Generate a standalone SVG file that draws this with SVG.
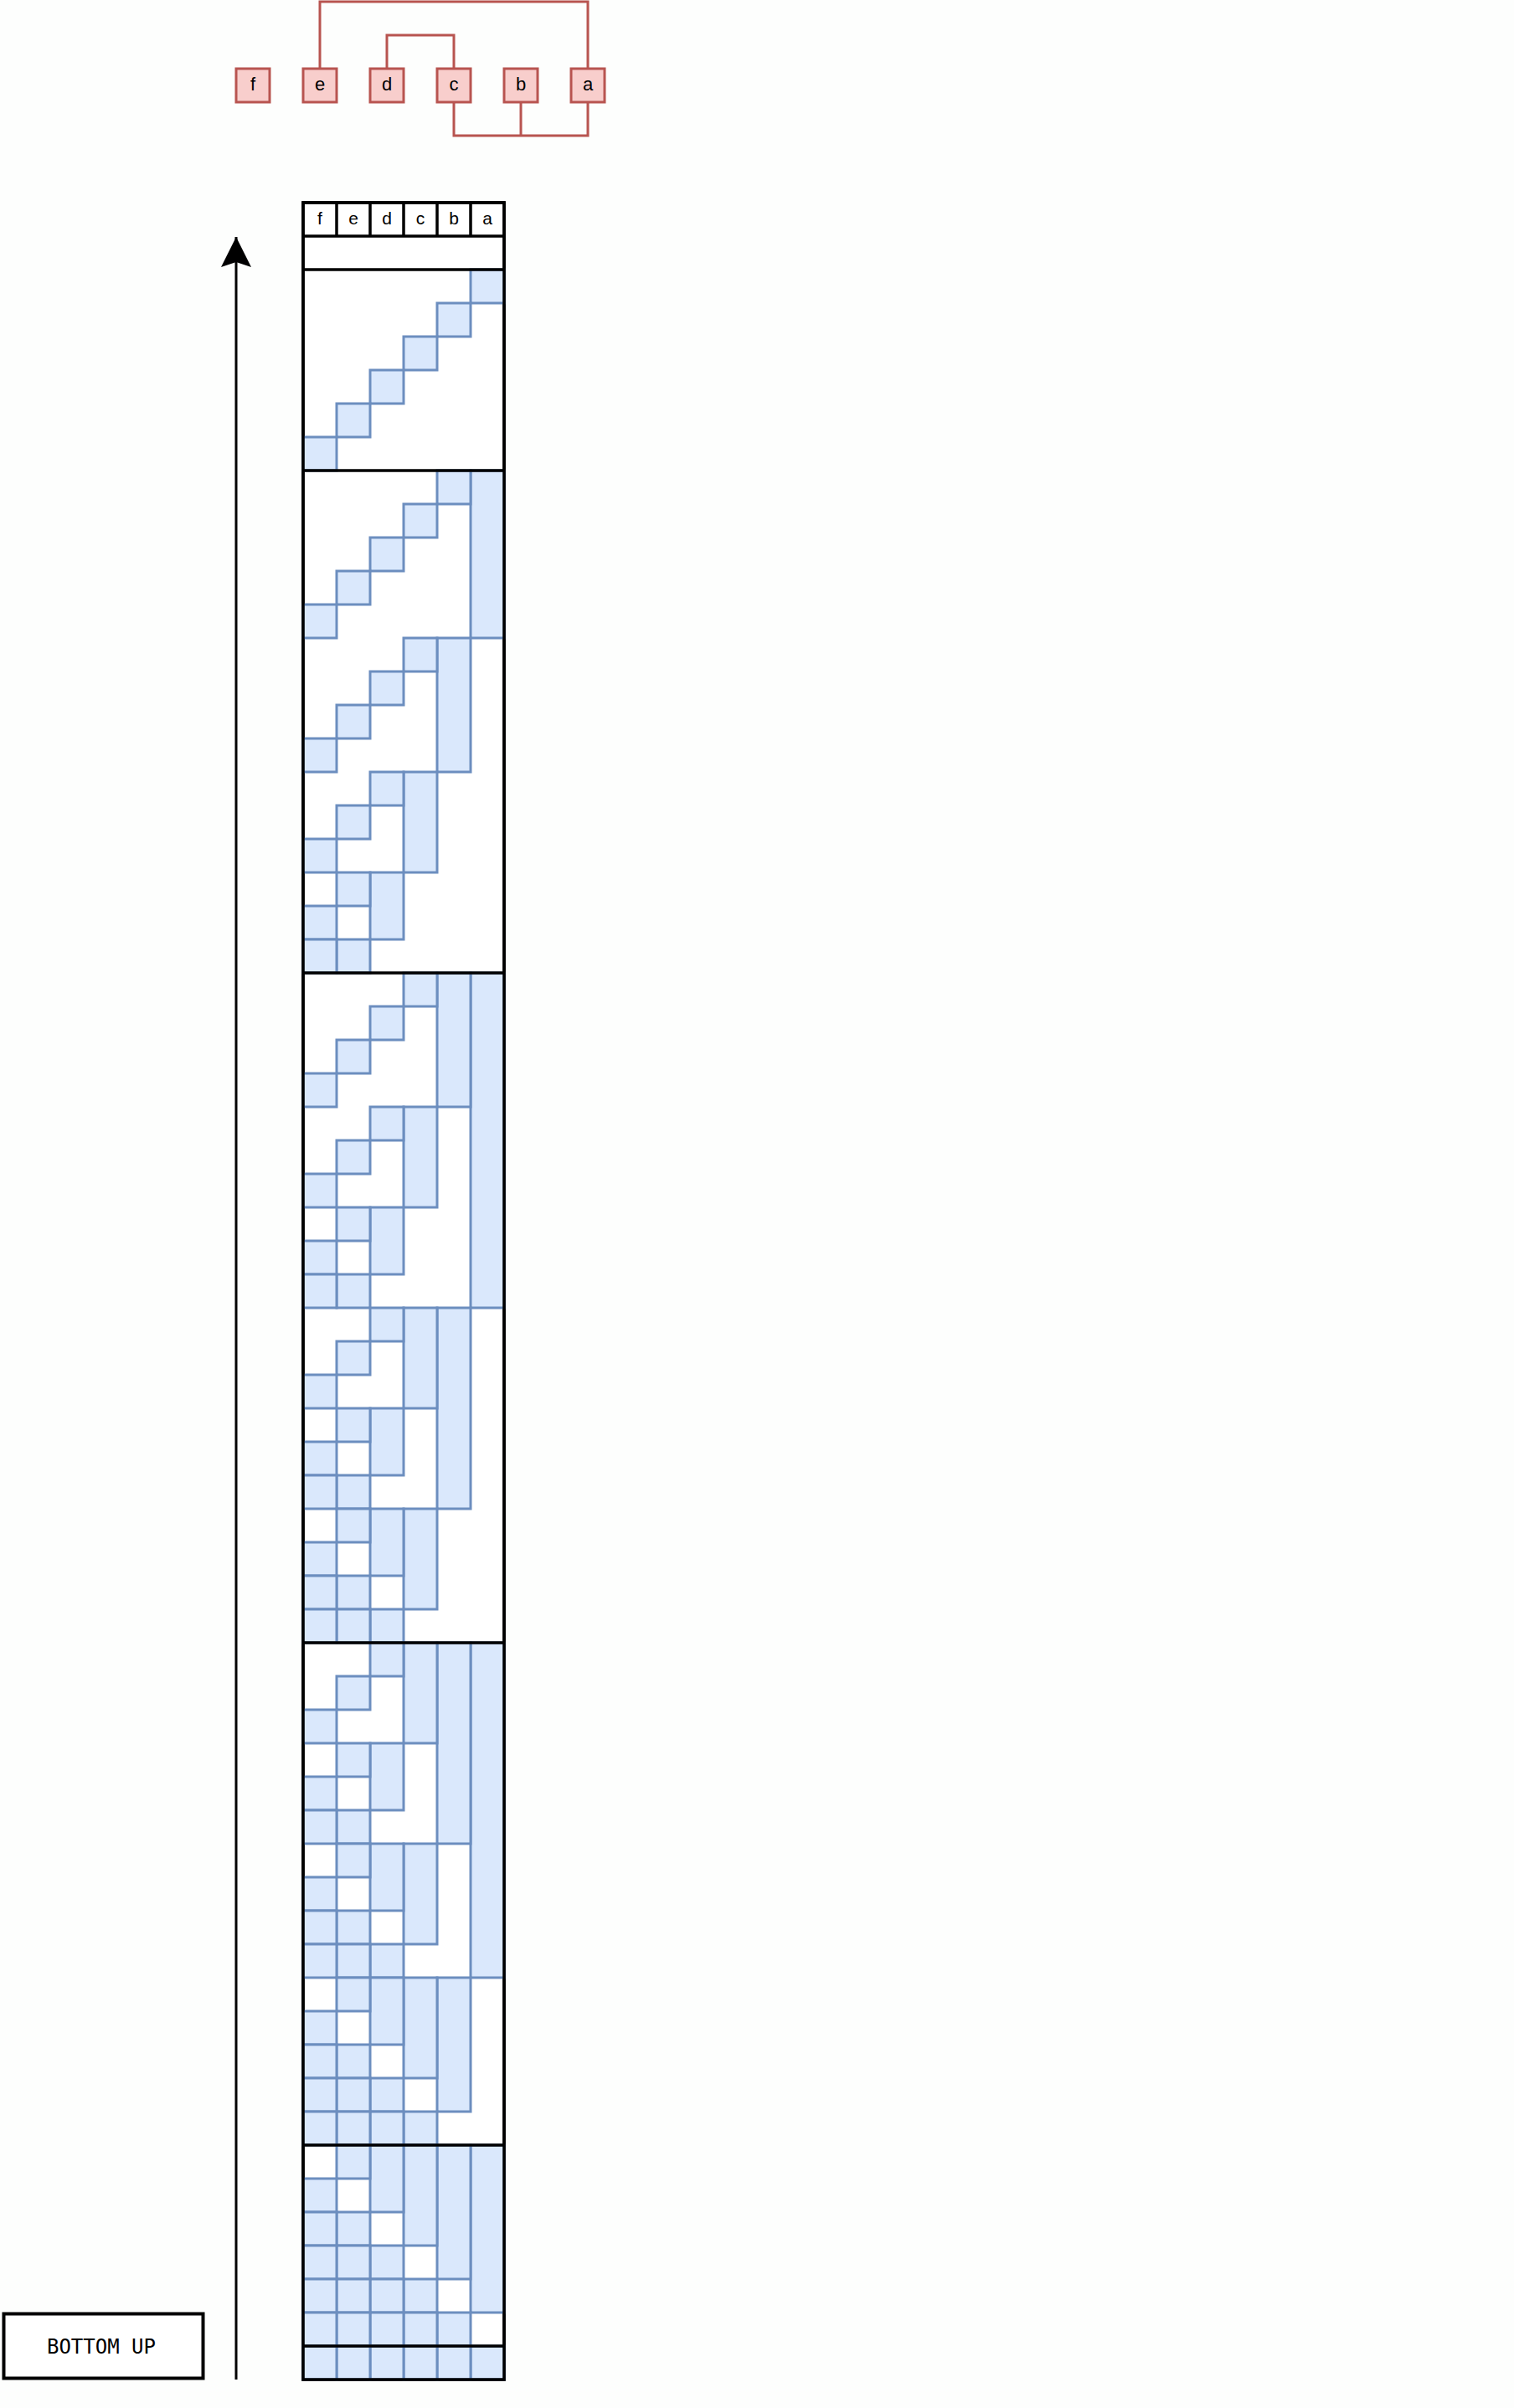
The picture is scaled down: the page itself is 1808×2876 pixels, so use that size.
<svg xmlns="http://www.w3.org/2000/svg" width="1808" height="2876" viewBox="0 0 1808 2876">
<style>
.bg{fill:#fdfefd}
.node rect{fill:#f8cecc;stroke:#b85450;stroke-width:3}
.node text{font-family:"Liberation Sans",Arial,sans-serif;font-size:22px;fill:#000;text-anchor:middle}
.hdr text{font-family:"Liberation Sans",Arial,sans-serif;font-size:21px;fill:#000;text-anchor:middle}
.conn{fill:none;stroke:#b85450;stroke-width:3}
.c{fill:#dae8fc;stroke:#6c8ebf;stroke-width:3}
.blk{fill:none;stroke:#000;stroke-width:3.5}
.frame{fill:#fff;stroke:#000;stroke-width:3.5}
.arrow{fill:none;stroke:#000;stroke-width:3}
.label{font-family:"DejaVu Sans Mono","Liberation Mono",monospace;font-size:24px;fill:#000;text-anchor:middle}
</style>
<defs>
<marker id="ah" markerUnits="userSpaceOnUse" markerWidth="40" markerHeight="40" viewBox="0 0 40 40" refX="36" refY="20" orient="auto">
<path d="M36,20 L0,38 L6,20 L0,2 Z" fill="#000"/>
</marker>
</defs>
<rect class="bg" x="0" y="0" width="1808" height="2876"/>

<g id="connectors">
<path class="conn" d="M382,82 V2 H702 V82"/>
<path class="conn" d="M462,82 V42 H542 V82"/>
<path class="conn" d="M542,122 V162 H702 V122"/>
<path class="conn" d="M622,122 V162"/>
</g>

<g id="node-f" class="node"><rect x="282" y="82" width="40" height="40"/><text x="302" y="108">f</text></g>
<g id="node-e" class="node"><rect x="362" y="82" width="40" height="40"/><text x="382" y="108">e</text></g>
<g id="node-d" class="node"><rect x="442" y="82" width="40" height="40"/><text x="462" y="108">d</text></g>
<g id="node-c" class="node"><rect x="522" y="82" width="40" height="40"/><text x="542" y="108">c</text></g>
<g id="node-b" class="node"><rect x="602" y="82" width="40" height="40"/><text x="622" y="108">b</text></g>
<g id="node-a" class="node"><rect x="682" y="82" width="40" height="40"/><text x="702" y="108">a</text></g>

<g id="arrow">
<path class="arrow" d="M282,2842 V283" marker-end="url(#ah)"/>
</g>

<g id="bottom-up">
<rect x="4.5" y="2763.5" width="238" height="77" fill="#fff" stroke="#000" stroke-width="4"/>
<text class="label" x="121" y="2811">BOTTOM UP</text>
</g>

<g id="grid">
<rect class="frame" x="362" y="242" width="240" height="2600"/>
<g id="k1">
<rect class="c" x="562" y="322" width="40" height="40"/>
<rect class="c" x="522" y="362" width="40" height="40"/>
<rect class="c" x="482" y="402" width="40" height="40"/>
<rect class="c" x="442" y="442" width="40" height="40"/>
<rect class="c" x="402" y="482" width="40" height="40"/>
<rect class="c" x="362" y="522" width="40" height="40"/>
</g>
<g id="k2">
<rect class="c" x="562" y="562" width="40" height="200"/>
<rect class="c" x="522" y="762" width="40" height="160"/>
<rect class="c" x="482" y="922" width="40" height="120"/>
<rect class="c" x="442" y="1042" width="40" height="80"/>
<rect class="c" x="402" y="1122" width="40" height="40"/>
<rect class="c" x="522" y="562" width="40" height="40"/>
<rect class="c" x="482" y="602" width="40" height="40"/>
<rect class="c" x="442" y="642" width="40" height="40"/>
<rect class="c" x="402" y="682" width="40" height="40"/>
<rect class="c" x="362" y="722" width="40" height="40"/>
<rect class="c" x="482" y="762" width="40" height="40"/>
<rect class="c" x="442" y="802" width="40" height="40"/>
<rect class="c" x="402" y="842" width="40" height="40"/>
<rect class="c" x="362" y="882" width="40" height="40"/>
<rect class="c" x="442" y="922" width="40" height="40"/>
<rect class="c" x="402" y="962" width="40" height="40"/>
<rect class="c" x="362" y="1002" width="40" height="40"/>
<rect class="c" x="402" y="1042" width="40" height="40"/>
<rect class="c" x="362" y="1082" width="40" height="40"/>
<rect class="c" x="362" y="1122" width="40" height="40"/>
</g>
<g id="k3">
<rect class="c" x="562" y="1162" width="40" height="400"/>
<rect class="c" x="522" y="1562" width="40" height="240"/>
<rect class="c" x="482" y="1802" width="40" height="120"/>
<rect class="c" x="442" y="1922" width="40" height="40"/>
<rect class="c" x="522" y="1162" width="40" height="160"/>
<rect class="c" x="482" y="1322" width="40" height="120"/>
<rect class="c" x="442" y="1442" width="40" height="80"/>
<rect class="c" x="402" y="1522" width="40" height="40"/>
<rect class="c" x="482" y="1562" width="40" height="120"/>
<rect class="c" x="442" y="1682" width="40" height="80"/>
<rect class="c" x="402" y="1762" width="40" height="40"/>
<rect class="c" x="442" y="1802" width="40" height="80"/>
<rect class="c" x="402" y="1882" width="40" height="40"/>
<rect class="c" x="402" y="1922" width="40" height="40"/>
<rect class="c" x="482" y="1162" width="40" height="40"/>
<rect class="c" x="442" y="1202" width="40" height="40"/>
<rect class="c" x="402" y="1242" width="40" height="40"/>
<rect class="c" x="362" y="1282" width="40" height="40"/>
<rect class="c" x="442" y="1322" width="40" height="40"/>
<rect class="c" x="402" y="1362" width="40" height="40"/>
<rect class="c" x="362" y="1402" width="40" height="40"/>
<rect class="c" x="402" y="1442" width="40" height="40"/>
<rect class="c" x="362" y="1482" width="40" height="40"/>
<rect class="c" x="362" y="1522" width="40" height="40"/>
<rect class="c" x="442" y="1562" width="40" height="40"/>
<rect class="c" x="402" y="1602" width="40" height="40"/>
<rect class="c" x="362" y="1642" width="40" height="40"/>
<rect class="c" x="402" y="1682" width="40" height="40"/>
<rect class="c" x="362" y="1722" width="40" height="40"/>
<rect class="c" x="362" y="1762" width="40" height="40"/>
<rect class="c" x="402" y="1802" width="40" height="40"/>
<rect class="c" x="362" y="1842" width="40" height="40"/>
<rect class="c" x="362" y="1882" width="40" height="40"/>
<rect class="c" x="362" y="1922" width="40" height="40"/>
</g>
<g id="k4">
<rect class="c" x="562" y="1962" width="40" height="400"/>
<rect class="c" x="522" y="2362" width="40" height="160"/>
<rect class="c" x="482" y="2522" width="40" height="40"/>
<rect class="c" x="522" y="1962" width="40" height="240"/>
<rect class="c" x="482" y="2202" width="40" height="120"/>
<rect class="c" x="442" y="2322" width="40" height="40"/>
<rect class="c" x="482" y="2362" width="40" height="120"/>
<rect class="c" x="442" y="2482" width="40" height="40"/>
<rect class="c" x="442" y="2522" width="40" height="40"/>
<rect class="c" x="482" y="1962" width="40" height="120"/>
<rect class="c" x="442" y="2082" width="40" height="80"/>
<rect class="c" x="402" y="2162" width="40" height="40"/>
<rect class="c" x="442" y="2202" width="40" height="80"/>
<rect class="c" x="402" y="2282" width="40" height="40"/>
<rect class="c" x="402" y="2322" width="40" height="40"/>
<rect class="c" x="442" y="2362" width="40" height="80"/>
<rect class="c" x="402" y="2442" width="40" height="40"/>
<rect class="c" x="402" y="2482" width="40" height="40"/>
<rect class="c" x="402" y="2522" width="40" height="40"/>
<rect class="c" x="442" y="1962" width="40" height="40"/>
<rect class="c" x="402" y="2002" width="40" height="40"/>
<rect class="c" x="362" y="2042" width="40" height="40"/>
<rect class="c" x="402" y="2082" width="40" height="40"/>
<rect class="c" x="362" y="2122" width="40" height="40"/>
<rect class="c" x="362" y="2162" width="40" height="40"/>
<rect class="c" x="402" y="2202" width="40" height="40"/>
<rect class="c" x="362" y="2242" width="40" height="40"/>
<rect class="c" x="362" y="2282" width="40" height="40"/>
<rect class="c" x="362" y="2322" width="40" height="40"/>
<rect class="c" x="402" y="2362" width="40" height="40"/>
<rect class="c" x="362" y="2402" width="40" height="40"/>
<rect class="c" x="362" y="2442" width="40" height="40"/>
<rect class="c" x="362" y="2482" width="40" height="40"/>
<rect class="c" x="362" y="2522" width="40" height="40"/>
</g>
<g id="k5">
<rect class="c" x="562" y="2562" width="40" height="200"/>
<rect class="c" x="522" y="2762" width="40" height="40"/>
<rect class="c" x="522" y="2562" width="40" height="160"/>
<rect class="c" x="482" y="2722" width="40" height="40"/>
<rect class="c" x="482" y="2762" width="40" height="40"/>
<rect class="c" x="482" y="2562" width="40" height="120"/>
<rect class="c" x="442" y="2682" width="40" height="40"/>
<rect class="c" x="442" y="2722" width="40" height="40"/>
<rect class="c" x="442" y="2762" width="40" height="40"/>
<rect class="c" x="442" y="2562" width="40" height="80"/>
<rect class="c" x="402" y="2642" width="40" height="40"/>
<rect class="c" x="402" y="2682" width="40" height="40"/>
<rect class="c" x="402" y="2722" width="40" height="40"/>
<rect class="c" x="402" y="2762" width="40" height="40"/>
<rect class="c" x="402" y="2562" width="40" height="40"/>
<rect class="c" x="362" y="2602" width="40" height="40"/>
<rect class="c" x="362" y="2642" width="40" height="40"/>
<rect class="c" x="362" y="2682" width="40" height="40"/>
<rect class="c" x="362" y="2722" width="40" height="40"/>
<rect class="c" x="362" y="2762" width="40" height="40"/>
</g>
<g id="k6">
<rect class="c" x="562" y="2802" width="40" height="40"/>
<rect class="c" x="522" y="2802" width="40" height="40"/>
<rect class="c" x="482" y="2802" width="40" height="40"/>
<rect class="c" x="442" y="2802" width="40" height="40"/>
<rect class="c" x="402" y="2802" width="40" height="40"/>
<rect class="c" x="362" y="2802" width="40" height="40"/>
</g>
<g id="grid-lines">
<rect class="blk" x="362" y="242" width="240" height="2600"/>
<path class="blk" d="M362,282 H602 M362,322 H602 M362,562 H602 M362,1162 H602 M362,1962 H602 M362,2562 H602 M362,2802 H602"/>
<path class="blk" d="M402,242 V282 M442,242 V282 M482,242 V282 M522,242 V282 M562,242 V282"/>
</g>
<g class="hdr">
<text x="382" y="268">f</text>
<text x="422" y="268">e</text>
<text x="462" y="268">d</text>
<text x="502" y="268">c</text>
<text x="542" y="268">b</text>
<text x="582" y="268">a</text>
</g>
</g>
</svg>
